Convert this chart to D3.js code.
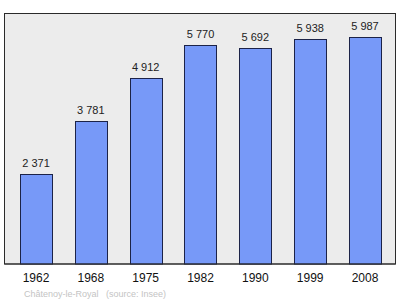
<!DOCTYPE html>
<html lang="fr">
<head>
<meta charset="UTF-8">
<title>Châtenoy-le-Royal population</title>
<script src="https://d3js.org/d3.v7.min.js"></script>
<style>
  body { margin: 0; background: #fff; font-family: "Liberation Sans", Arial, sans-serif; }
  svg { display: block; }
</style>
</head>
<body>
<div id="chart"></div>
<script>
const years = ["1962", "1968", "1975", "1982", "1990", "1999", "2008"];
const population = [2371, 3781, 4912, 5770, 5692, 5938, 5987];
const sourceLabel = "Châtenoy-le-Royal   (source: Insee)";

const W = 400, H = 299;
const frame = { left: 4.5, top: 13.5, right: 395.5, bottom: 264 };

const svg = d3.select("#chart").append("svg")
  .attr("width", W)
  .attr("height", H);

// plot background
svg.append("rect")
  .attr("x", frame.left)
  .attr("y", frame.top)
  .attr("width", frame.right - frame.left)
  .attr("height", frame.bottom - frame.top)
  .attr("fill", "#ececec")
  .attr("stroke", "#2a2a2a")
  .attr("stroke-width", 1);

const x = d3.scaleBand()
  .domain(years)
  .range([4, 397])
  .paddingInner(0.416)
  .paddingOuter(0.292);

const y = d3.scaleLinear()
  .domain([0, 6000])
  .range([264, 36.5]);

const fmt = v => d3.format(",")(v).replace(",", " ");

svg.selectAll("rect.bar")
  .data(population)
  .enter()
  .append("rect")
  .attr("class", "bar")
  .attr("x", (d, i) => Math.round(x(years[i])) + 0.5)
  .attr("y", d => Math.round(y(d)) + 0.5)
  .attr("width", Math.round(x.bandwidth()))
  .attr("height", d => y(0) - Math.round(y(d)) - 0.5)
  .attr("fill", "#7799f8")
  .attr("stroke", "#1c2348")
  .attr("stroke-width", 1);

svg.selectAll("text.val")
  .data(population)
  .enter()
  .append("text")
  .attr("class", "val")
  .attr("x", (d, i) => x(years[i]) + x.bandwidth() / 2)
  .attr("y", d => y(d) - 7)
  .attr("text-anchor", "middle")
  .attr("font-size", 11)
  .attr("fill", "#222")
  .text(fmt);

// redraw frame border on top of bars' bottom edges
svg.append("line")
  .attr("x1", frame.left).attr("x2", frame.right)
  .attr("y1", frame.bottom).attr("y2", frame.bottom)
  .attr("stroke", "#2a2a2a");

svg.selectAll("text.year")
  .data(years)
  .enter()
  .append("text")
  .attr("class", "year")
  .attr("x", d => x(d) + x.bandwidth() / 2)
  .attr("y", 282)
  .attr("text-anchor", "middle")
  .attr("font-size", 12)
  .attr("fill", "#111")
  .text(d => d);

svg.append("text")
  .attr("x", 24)
  .attr("y", 297)
  .attr("font-size", 9)
  .attr("fill", "#c4c4c4")
  .attr("xml:space", "preserve")
  .style("white-space", "pre")
  .text(sourceLabel);
</script>
</body>
</html>
